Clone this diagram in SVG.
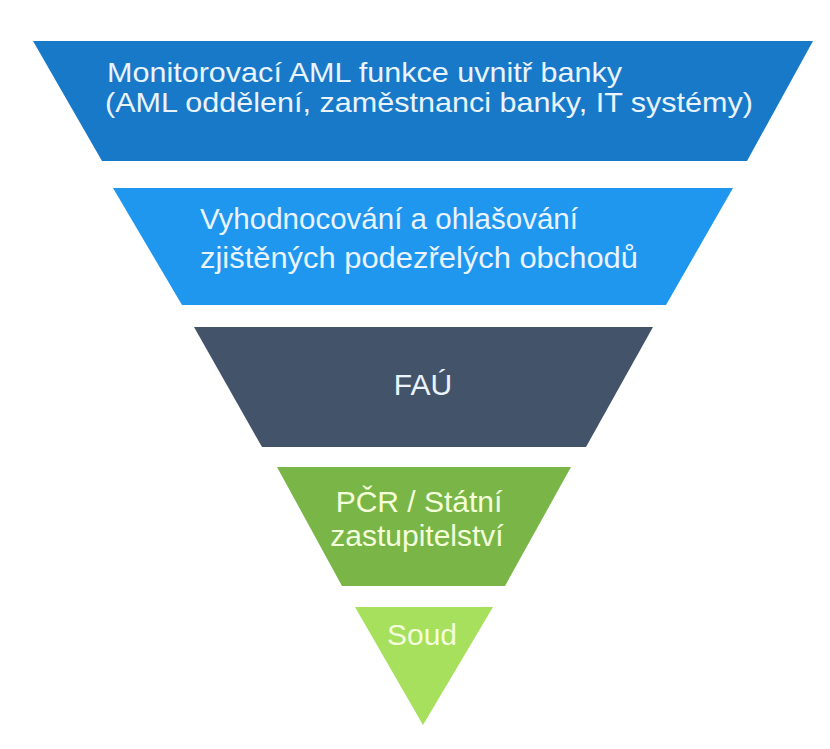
<svg xmlns="http://www.w3.org/2000/svg" width="830" height="749" viewBox="0 0 830 749">
<style>
text{font-family:"Liberation Sans",Arial,sans-serif;font-size:30px}
.s{font-size:28px}
.m{font-size:29px}
.b{fill:#eaf4ff}
.g{fill:#f4ffdc}
</style>
<rect width="830" height="749" fill="#ffffff"/>
<g id="level1">
<polygon points="33,41 813,41 747,161 102,161" fill="#1879c9"/>
<text class="b s" x="107" y="82" textLength="515" lengthAdjust="spacingAndGlyphs">Monitorovací AML funkce uvnitř banky</text>
<text class="b s" x="105" y="112" textLength="648" lengthAdjust="spacingAndGlyphs">(AML oddělení, zaměstnanci banky, IT systémy)</text>
</g>
<g id="level2">
<polygon points="113,188 733,188 666,305 182,305" fill="#1f97ef"/>
<text class="b m" x="200" y="229" textLength="378" lengthAdjust="spacingAndGlyphs">Vyhodnocování a ohlašování</text>
<text class="b m" x="200" y="268" textLength="438" lengthAdjust="spacingAndGlyphs">zjištěných podezřelých obchodů</text>
</g>
<g id="level3">
<polygon points="194,327 653,327 586,447 262,447" fill="#43536a"/>
<text class="b" x="423" y="395" text-anchor="middle">FAÚ</text>
</g>
<g id="level4">
<polygon points="277,467 571,467 505,586 342,586" fill="#79b647"/>
<text class="g" x="419" y="512" text-anchor="middle">PČR / Státní</text>
<text class="g" x="417" y="546" text-anchor="middle">zastupitelství</text>
</g>
<g id="level5">
<polygon points="355,607 493,607 423,725" fill="#a6e05d"/>
<text class="g" x="422" y="645" text-anchor="middle">Soud</text>
</g>
<g id="connectors"/>
</svg>
